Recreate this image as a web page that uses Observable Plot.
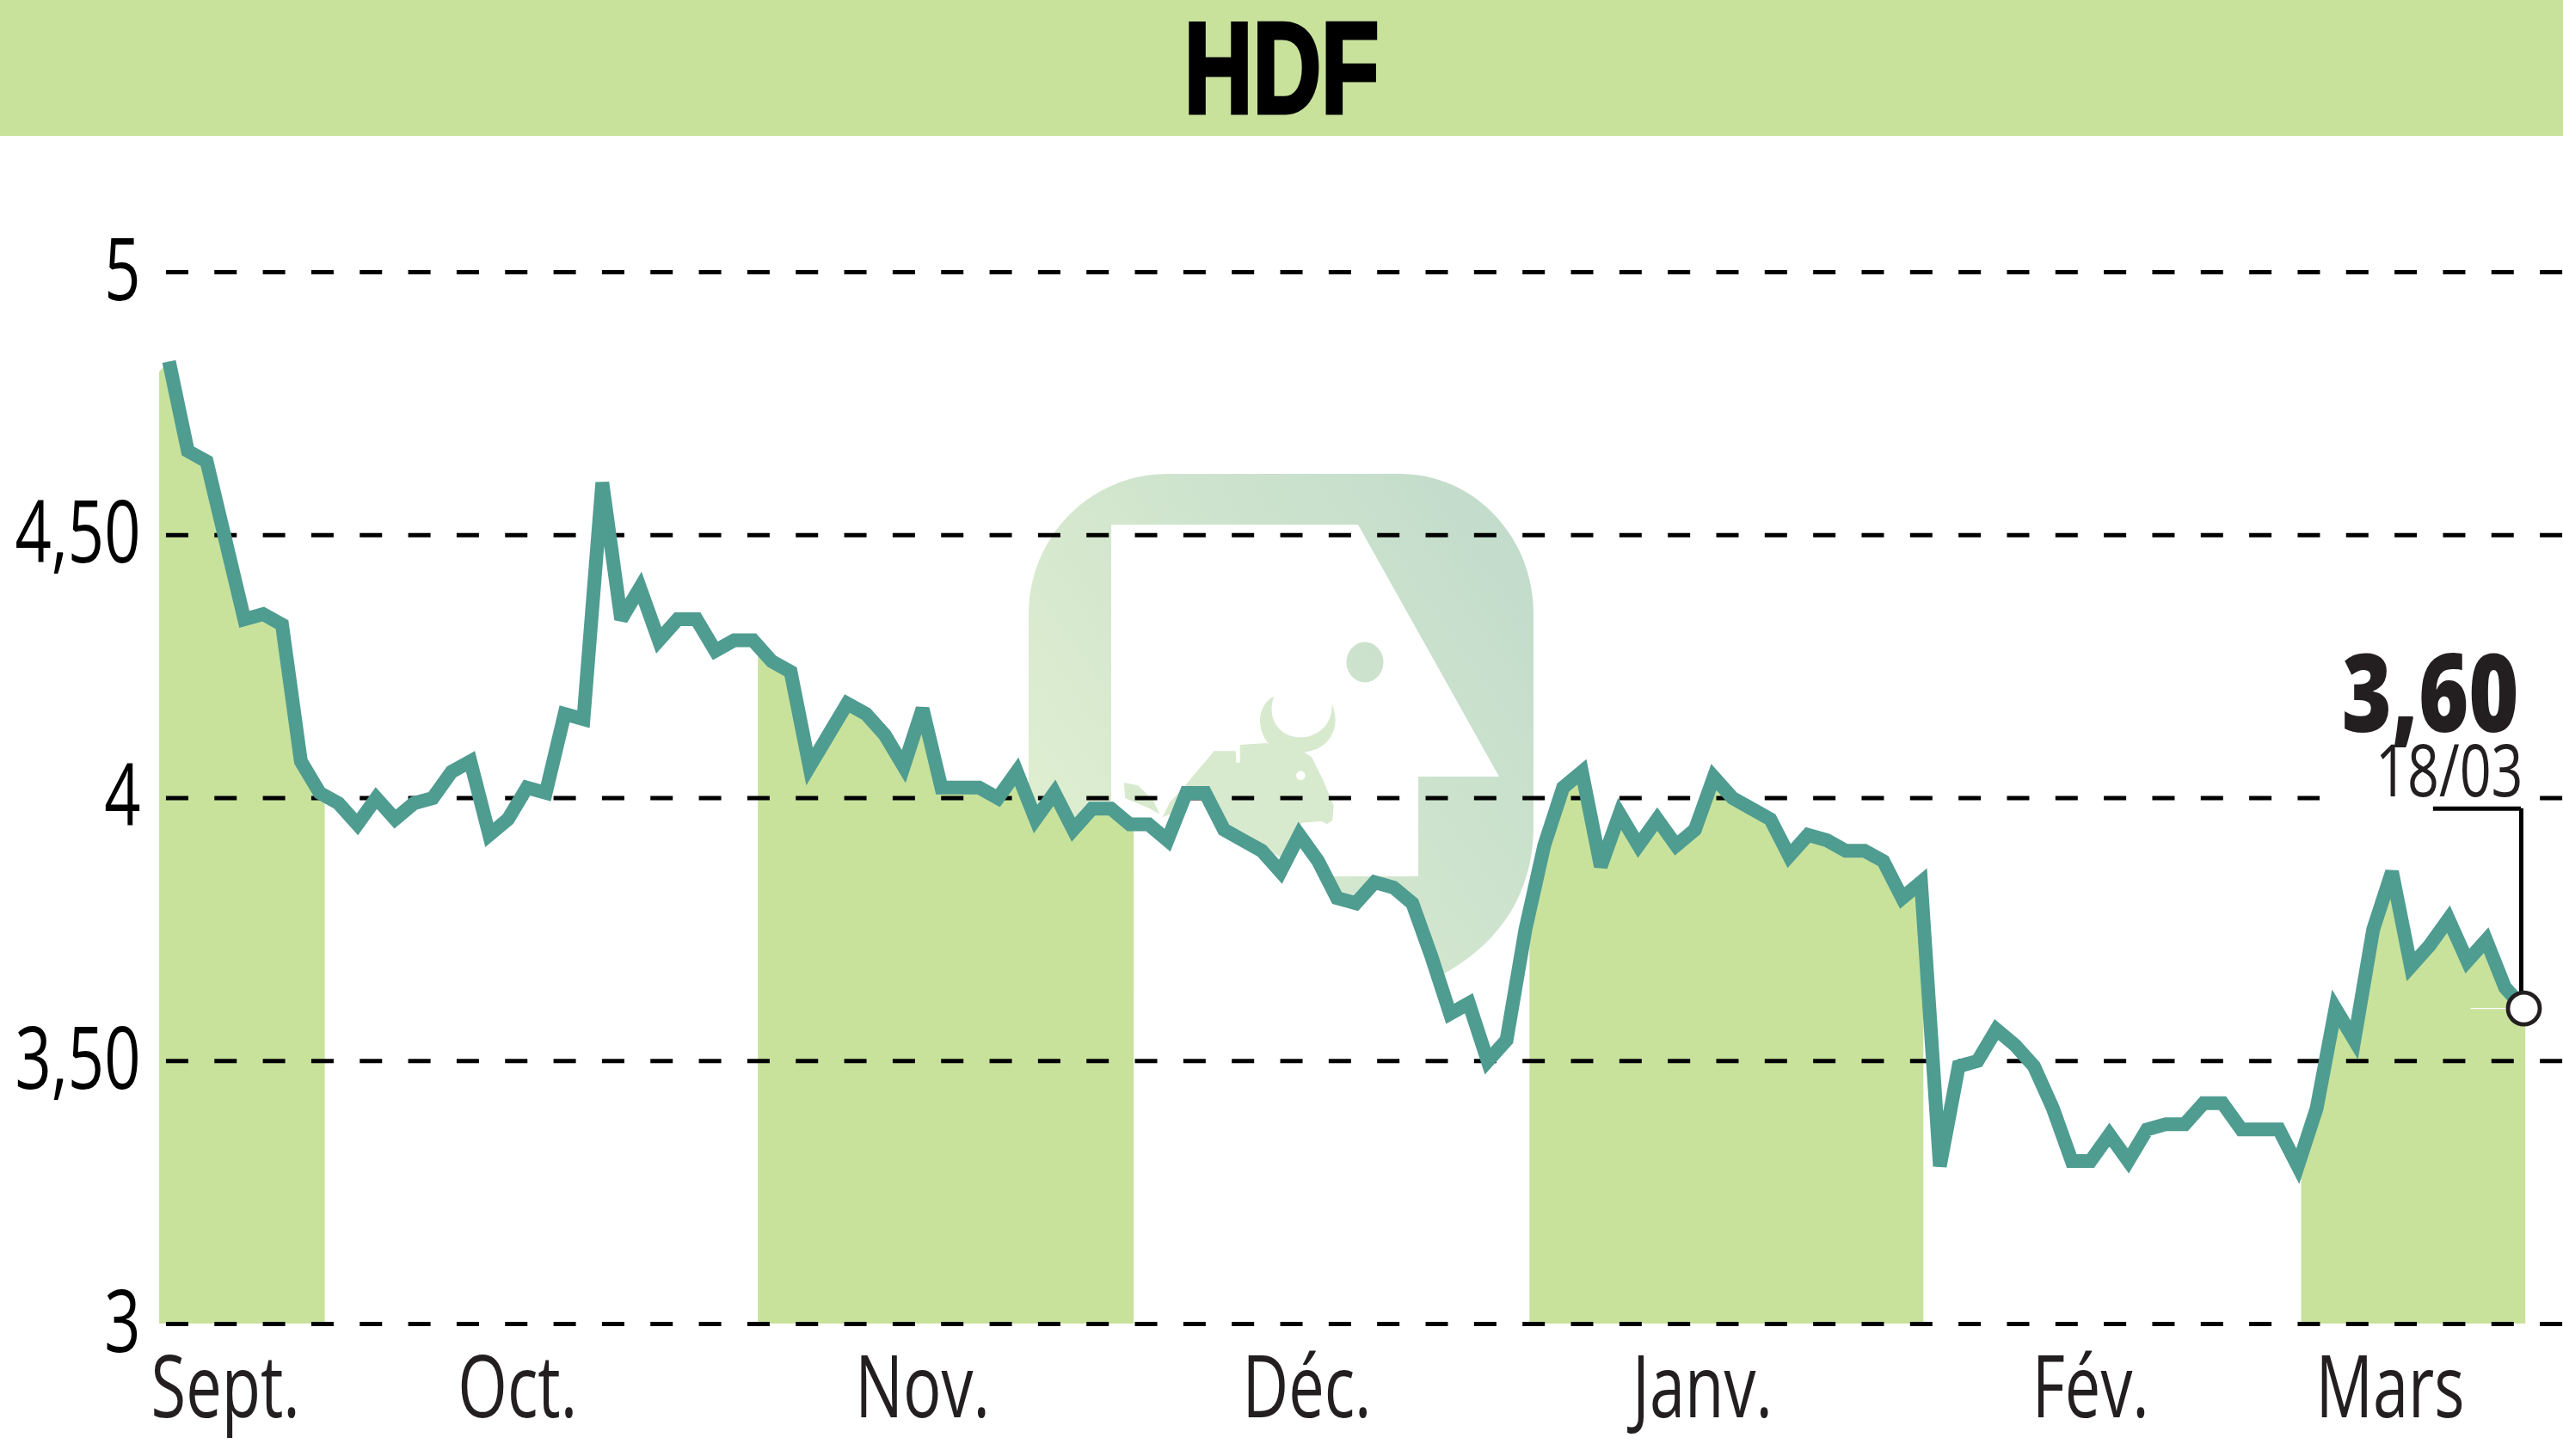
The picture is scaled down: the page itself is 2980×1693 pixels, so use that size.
<!DOCTYPE html>
<html lang="fr">
<head>
<meta charset="utf-8">
<title>HDF</title>
<script src="https://cdn.jsdelivr.net/npm/d3@7"></script>
<script src="https://cdn.jsdelivr.net/npm/@observablehq/plot@0.6"></script>
<style>
  html, body { margin: 0; padding: 0; background: #fff; width: 2980px; height: 1693px; overflow: hidden; position: relative; }
  #banner { height: 158px; background: #C8E29C; text-align: center; }
  #banner h1 { display: inline-block; margin: 0; font: 700 150px/158px "Liberation Sans", sans-serif; color: #000; transform: scaleX(0.735); transform-origin: center; -webkit-text-stroke: 5px #000; }
  #logo { position: absolute; left: 0; top: 0; z-index: 0; }
  #chart { position: relative; z-index: 1; }
</style>
</head>
<body>
<div id="banner"><h1>HDF</h1></div>
<svg id="logo" width="2980" height="1693" viewBox="0 0 2980 1693" aria-hidden="true">
  <defs>
    <linearGradient id="tint" gradientUnits="userSpaceOnUse" x1="1790" y1="620" x2="1230" y2="1000">
      <stop offset="0" stop-color="#C1DBCB"/>
      <stop offset="1" stop-color="#DFEED0"/>
    </linearGradient>
  </defs>
  <path fill="url(#tint)" d="M1357 551H1628C1714 551 1783 624 1783 714V960C1783 1060 1720 1120 1640 1150H1250C1220 1150 1196 1120 1196 1090V714C1196 624 1268 551 1357 551Z"/>
  <path fill="#fff" d="M1292 610H1579L1743 903H1649V1019H1292Z"/>
  <ellipse cx="1587" cy="770" rx="21.5" ry="23.5" fill="url(#tint)"/>
  <g transform="translate(1280 740) scale(0.33333)">
    <path fill="#D8EACE" d="M285 530L395 400H470L472 440H485V378L575 372L710 405L735 420L775 500L812 590L808 640L790 655L770 645L700 650L625 770L540 720L440 660L380 560Z"/>
    <path fill="#D8EACE" d="M605 208C545 240 540 320 585 375C640 410 700 410 730 400C800 385 840 310 805 235C812 300 760 352 695 352C620 352 575 280 605 208Z"/>
    <path fill="#D8EACE" d="M80 510L130 520L185 575L205 620L170 600L85 565Z"/>
    <path fill="#D8EACE" d="M215 630L240 580L285 530L300 600Z"/>
    <circle cx="697" cy="485" r="16" fill="#fff"/>
  </g>
</svg>
<div id="chart"></div>
<script>
// Daily closing prices, one per trading session (index 0 = early September, last = 18/03)
const prices = [
  4.83,4.66,4.64,4.49,4.34,4.35,4.33,4.07,4.01,3.99,
  3.95,4.00,3.96,3.99,4.00,4.05,4.07,3.93,3.96,4.02,
  4.01,4.16,4.15,4.60,4.34,4.40,4.30,4.34,4.34,4.28,
  4.30,4.30,4.26,4.24,4.06,4.12,4.18,4.16,4.12,4.06,
  4.17,4.02,4.02,4.02,4.00,4.05,3.96,4.01,3.94,3.98,
  3.98,3.95,3.95,3.92,4.01,4.01,3.94,3.92,3.90,3.86,
  3.93,3.88,3.81,3.80,3.84,3.83,3.80,3.70,3.59,3.61,
  3.50,3.54,3.75,3.91,4.02,4.05,3.87,3.97,3.91,3.96,
  3.91,3.94,4.04,4.00,3.98,3.96,3.89,3.93,3.92,3.90,
  3.90,3.88,3.81,3.84,3.30,3.49,3.50,3.56,3.53,3.49,
  3.41,3.31,3.31,3.36,3.31,3.37,3.38,3.38,3.42,3.42,
  3.37,3.37,3.37,3.30,3.41,3.60,3.54,3.75,3.86,3.68,
  3.72,3.77,3.69,3.73,3.64,3.60
];

const gridValues = [3, 3.5, 4, 4.5, 5];
const gridLabels = ["3", "3,50", "4", "4,50", "5"];

const monthLabels = ["Sept.", "Oct.", "Nov.", "Déc.", "Janv.", "Fév.", "Mars"];
const monthCenters = [3.0, 18.5, 40, 60.4, 81.4, 102, 117.9];
const monthEdges = [-0.5, 8.29, 31.28, 51.23, 72.24, 93.15, 113.2, 125.1];

const firstEdgeValue = 4.81;
const lastValue = 3.60;
const lastValueLabel = "3,60";
const lastDateLabel = "18/03";
const leaderTop = 3.98;
const leaderStart = 120.2;
const leaderX = 124.86;
const gridGap = [114.18, 125.87];

const GREEN = "#C8E29C";
const LINE = "#4F9C91";
const INK = "#231F20";
const FONT = '"Open Sans", "Liberation Sans", sans-serif';

const points = prices.map((v, i) => ({i, v}));

function valueAt(x) {
  if (x <= 0) return x < 0 ? firstEdgeValue : prices[0];
  if (x >= prices.length - 1) return prices[prices.length - 1];
  const a = Math.floor(x), t = x - a;
  return prices[a] + (prices[a + 1] - prices[a]) * t;
}
function underLine(start, end, k) {
  const xs = [start];
  for (let i = Math.ceil(start); i <= Math.floor(end); i++) if (i > start && i < end) xs.push(i);
  xs.push(end);
  return xs.map(i => ({i, v: valueAt(i), k}));
}
const monthRows = d3.pairs(monthEdges).flatMap(([a, b], k) => underLine(a, b, k));
const greenRows = monthRows.filter(d => d.k % 2 === 0);
const whiteRows = monthRows.filter(d => d.k % 2 === 1);

const chart = Plot.plot({
  width: 2980,
  height: 1535,
  marginLeft: 196,
  marginRight: 46,
  marginTop: 158,
  marginBottom: 154,
  x: {domain: [0, prices.length - 1]},
  y: {domain: [3, 5]},
  style: {background: "transparent", fontFamily: FONT, overflow: "visible"},
  marks: [
    Plot.areaY(whiteRows, {x: "i", y1: 3, y2: "v", z: "k", fill: "#fff"}),
    Plot.areaY(greenRows, {x: "i", y1: 3, y2: "v", z: "k", fill: GREEN}),
    Plot.ruleY(gridValues, {x1: -0.14, x2: 127.1, stroke: "#000", strokeWidth: 5, strokeDasharray: "26 30.33"}),
    Plot.ruleY([4], {x1: gridGap[0], x2: gridGap[1], stroke: "#fff", strokeWidth: 8}),
    Plot.axisY({ticks: gridValues, tickFormat: d => gridLabels[gridValues.indexOf(d)], tickSize: 0, tickPadding: 33, fontSize: 100, label: null, color: "#000"}),
    Plot.axisX({ticks: monthCenters, tickFormat: d => monthLabels[monthCenters.indexOf(d)], tickSize: 0, tickPadding: 37, fontSize: 100, label: null, color: INK}),
    Plot.line(points, {x: "i", y: "v", stroke: LINE, strokeWidth: 16, strokeLinejoin: "miter", strokeLinecap: "butt", strokeMiterlimit: 3}),
    Plot.ruleY([lastValue], {x1: 122.2, x2: 124.3, stroke: "#fff", strokeWidth: 1.2}),
    Plot.ruleX([leaderX], {y1: lastValue, y2: leaderTop, stroke: "#000", strokeWidth: 5}),
    Plot.ruleY([leaderTop], {x1: leaderStart, x2: leaderX, stroke: "#000", strokeWidth: 5}),
    Plot.dot([{i: prices.length - 1, v: lastValue}], {x: "i", y: "v", r: 18.5, fill: "#fff", stroke: INK, strokeWidth: 4.8}),
    Plot.text([{i: prices.length - 1, v: lastValue}], {x: "i", y: "v", text: () => lastValueLabel, textAnchor: "end", lineAnchor: "bottom", dx: -6, dy: -322, fontSize: 126, fontWeight: 800, fill: INK}),
    Plot.text([{i: prices.length - 1, v: lastValue}], {x: "i", y: "v", text: () => lastDateLabel, textAnchor: "end", lineAnchor: "bottom", dx: -1, dy: -247, fontSize: 85, fill: INK})
  ]
});
document.getElementById("chart").append(chart);

// The reference's type is condensed: narrow each label's glyphs natively.
const narrowing = {[lastValueLabel]: 0.79, [lastDateLabel]: 0.76};
chart.querySelectorAll("text").forEach(t => {
  const k = narrowing[t.textContent] ?? 0.74;
  t.setAttribute("textLength", (t.getComputedTextLength() * k).toFixed(1));
  t.setAttribute("lengthAdjust", "spacingAndGlyphs");
});
</script>
</body>
</html>
